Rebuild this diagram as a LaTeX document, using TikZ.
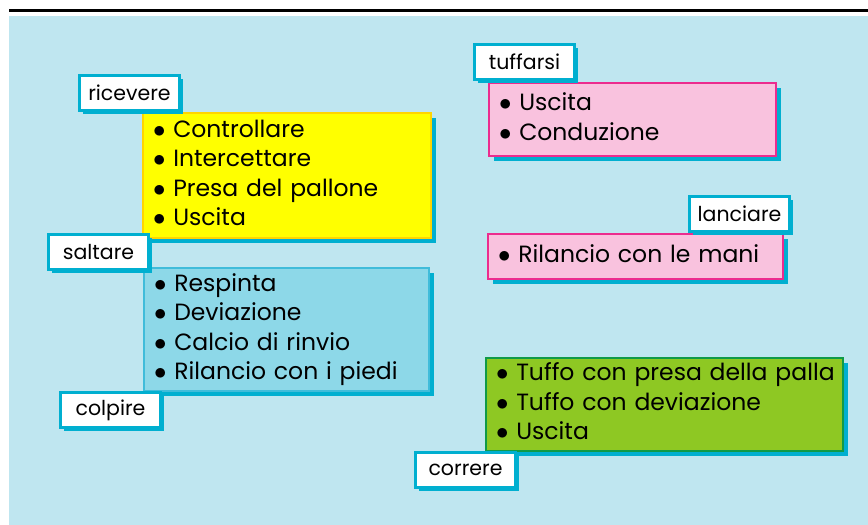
\documentclass[tikz,border=0pt]{standalone}
\usepackage{fontspec}
\setmainfont{Poppins}
\usetikzlibrary{shadows}

\definecolor{sky}{HTML}{BFE6F0}
\definecolor{frame}{HTML}{00AFD0}
\definecolor{lemon}{HTML}{FFFF00}
\definecolor{lemonedge}{HTML}{FFD500}
\definecolor{aqua}{HTML}{8DD8E8}
\definecolor{aquaedge}{HTML}{40BCDA}
\definecolor{rose}{HTML}{F9C2DE}
\definecolor{roseedge}{HTML}{EC2C8E}
\definecolor{grass}{HTML}{8EC823}
\definecolor{grassedge}{HTML}{109A48}

\tikzset{
  verb/.style={draw=frame, line width=3pt, fill=white, anchor=north west,
    minimum width=100pt, minimum height=35pt, inner sep=0pt,
    font=\fontsize{20.5}{24}\selectfont,
    general shadow={fill=frame, shadow xshift=3pt, shadow yshift=-3pt}},
  list/.style={line width=2pt, anchor=north west, inner xsep=10pt, inner ysep=0pt,
    align=left, font=\fontsize{23.5}{29.5}\selectfont,
    general shadow={fill=frame, shadow xshift=5pt, shadow yshift=-5pt}}
}

\begin{document}
\begin{tikzpicture}[x=1pt,y=-1pt]
\useasboundingbox [fill=white] (0,0) rectangle (868,525);
\fill [sky] (9,16) rectangle (868,525);
\draw [line width=2.5pt] (9,10.7) -- (868,10.7);

\node (catch) [list, fill=lemon, draw=lemonedge, text width=268pt, minimum height=125pt] at (142,112) {
\begin{tabular}{@{}l@{}}
$\bullet$ Controllare \\
$\bullet$ Intercettare \\
$\bullet$ Presa del pallone \\
$\bullet$ Uscita
\end{tabular}
};
\node (hit) [list, fill=aqua, draw=aquaedge, text width=265pt, minimum height=123pt] at (143,267) {
\begin{tabular}{@{}l@{}}
$\bullet$ Respinta \\
$\bullet$ Deviazione \\
$\bullet$ Calcio di rinvio \\
$\bullet$ Rilancio con i piedi
\end{tabular}
};
\node (dive) [list, fill=rose, draw=roseedge, text width=267pt, minimum height=73pt] at (488,82) {
\begin{tabular}{@{}l@{}}
$\bullet$ Uscita \\
$\bullet$ Conduzione
\end{tabular}
};
\node (throw) [list, fill=rose, draw=roseedge, text width=275pt, minimum height=45pt] at (487,233) {
\begin{tabular}{@{}l@{}}
$\bullet$ Rilancio con le mani
\end{tabular}
};
\node (run) [list, fill=grass, draw=grassedge, text width=337pt, minimum height=93pt] at (485,357) {
\begin{tabular}{@{}l@{}}
$\bullet$ Tuffo con presa della palla \\
$\bullet$ Tuffo con deviazione \\
$\bullet$ Uscita
\end{tabular}
};

\node (ricevere) [verb] at (78,74) {ricevere};
\node (saltare) [verb] at (47,233) {saltare};
\node (colpire) [verb] at (59,391) {colpire};
\node (tuffarsi) [verb] at (473,43) {tuffarsi};
\node (lanciare) [verb] at (688,195) {lanciare};
\node (correre) [verb] at (414,451) {correre};
\end{tikzpicture}
\end{document}
